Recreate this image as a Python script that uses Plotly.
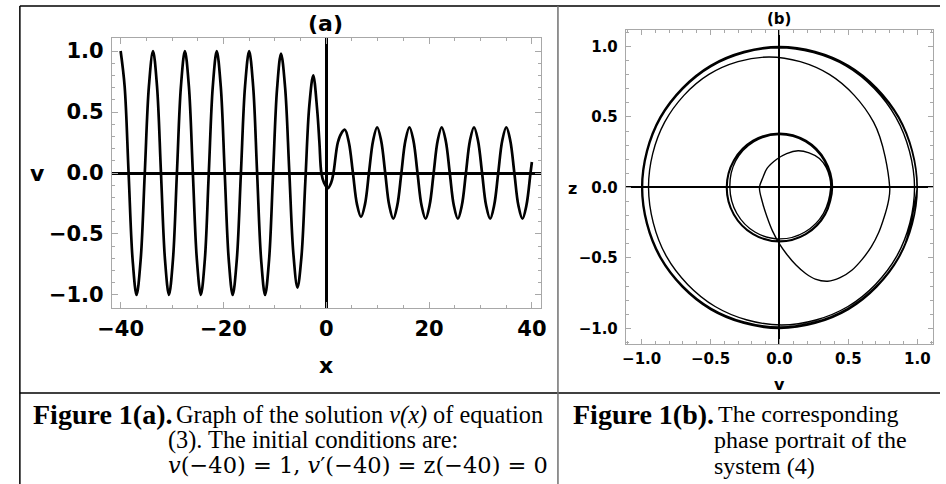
import plotly.graph_objects as go

W, H = 946, 484

# ---------------- data: panel (a)  v(x) ----------------
x_a = [-40.0, -39.22, -38.45, -37.67, -36.9,
       -36.1, -35.3, -34.5, -33.7,
       -32.92, -32.15, -31.37, -30.6,
       -29.82, -29.05, -28.27, -27.5,
       -26.72, -25.95, -25.17, -24.4,
       -23.62, -22.85, -22.07, -21.3,
       -20.52, -19.75, -18.97, -18.2,
       -17.4, -16.6, -15.8, -15.0,
       -14.22, -13.45, -12.67, -11.9,
       -11.12, -10.35, -9.57, -8.8,
       -8.0, -7.2, -6.4, -5.6,
       -4.83, -4.07, -3.30, -2.53,
       -1.77, -1.33, -0.95, -0.44, 0.32, 0.95, 1.4, 2.25, 3.0, 3.62,
       4.4, 5.19, 5.97, 6.76,
       7.54, 8.33, 9.11, 9.9,
       10.68, 11.47, 12.25, 13.04,
       13.82, 14.61, 15.39, 16.18,
       16.96, 17.75, 18.53, 19.32,
       20.1, 20.89, 21.67, 22.46,
       23.24, 24.03, 24.81, 25.6,
       26.38, 27.17, 27.95, 28.74,
       29.52, 30.31, 31.09, 31.88,
       32.66, 33.45, 34.23, 35.02,
       35.8, 36.59, 37.37, 38.16,
       38.94, 39.73, 40.0]
v_a = [1.0, 0.71, 0.0, -0.71, -1.0,
       -0.71, 0.0, 0.71, 1.0,
       0.71, 0.0, -0.71, -1.0,
       -0.71, 0.0, 0.71, 1.0,
       0.71, 0.0, -0.71, -1.0,
       -0.71, 0.0, 0.71, 1.0,
       0.71, 0.0, -0.71, -1.0,
       -0.71, 0.0, 0.71, 1.0,
       0.71, 0.0, -0.71, -1.0,
       -0.71, -0.01, 0.69, 0.98,
       0.70, 0.02, -0.66, -0.94,
       -0.69, -0.07, 0.55, 0.80,
       0.52, 0.25, 0.0, -0.08, -0.125, -0.08, 0.0, 0.25, 0.33, 0.355,
       0.25, 0.0, -0.255, -0.36,
       -0.255, 0.01, 0.265, 0.375,
       0.265, 0.0, -0.265, -0.375,
       -0.265, 0.0, 0.265, 0.375,
       0.265, 0.0, -0.265, -0.375,
       -0.265, 0.0, 0.265, 0.375,
       0.265, 0.0, -0.265, -0.375,
       -0.265, 0.0, 0.265, 0.375,
       0.265, 0.0, -0.265, -0.375,
       -0.265, 0.0, 0.265, 0.375,
       0.265, 0.0, -0.265, -0.375,
       -0.265, 0.0, 0.09]

# ---------------- data: panel (b)  phase portrait (v, z), read loop by loop ----------------
v_b = [1.0,
       # outer loops
       0.866, 0.5, 0.0, -0.5, -0.866, -1.0, -0.866, -0.5, 0.0, 0.5, 0.866, 1.0,
       0.864, 0.498, 0.0, -0.498, -0.862, -0.995, -0.862, -0.498, 0.0, 0.498, 0.864, 1.0,
       0.866, 0.5, 0.0, -0.5, -0.866, -1.0, -0.866, -0.5, 0.0, 0.5, 0.866, 1.0,
       0.863, 0.497, 0.0, -0.496, -0.86, -0.993, -0.86, -0.496, 0.0, 0.497, 0.863, 0.998,
       0.866, 0.5, 0.0, -0.5, -0.866, -1.0, -0.866, -0.505, -0.01, 0.485, 0.845, 0.98,
       0.851, 0.497, 0.015, -0.467, -0.821, -0.95, -0.833, -0.512, -0.075, 0.362, 0.683, 0.80,
       # transition (teardrop)
       0.79, 0.76, 0.72, 0.667, 0.60, 0.525, 0.44, 0.35, 0.26, 0.19, 0.12, 0.05, 0.0,
       -0.05, -0.09, -0.125, -0.145,
       -0.12, -0.09, -0.02, 0.052, 0.135, 0.215, 0.29, 0.34, 0.365, 0.372,
       # inner loops
       0.32, 0.185, 0.005, -0.178, -0.31, -0.36, -0.318, -0.185, 0.0, 0.188, 0.325, 0.375,
       0.329, 0.19, 0.0, -0.19, -0.329, -0.38, -0.329, -0.19, 0.0, 0.19, 0.329, 0.38,
       0.333, 0.1925, 0.0, -0.1925, -0.333, -0.385, -0.333, -0.1925, 0.0, 0.1925, 0.333, 0.385,
       0.329, 0.19, 0.0, -0.19, -0.329, -0.38, -0.329, -0.19, 0.0, 0.19, 0.329, 0.38,
       0.333, 0.1925, 0.0, -0.1925, -0.333, -0.385, -0.333, -0.1925, 0.0, 0.1925, 0.333, 0.385,
       0.329, 0.19, 0.0, -0.19, -0.329, -0.38, -0.329, -0.19, 0.0, 0.09]
z_b = [0.0,
       -0.5, -0.866, -1.0, -0.866, -0.5, 0.0, 0.5, 0.866, 1.0, 0.866, 0.5, 0.0,
       -0.497, -0.86, -0.993, -0.86, -0.497, 0.0, 0.497, 0.86, 0.993, 0.86, 0.497, 0.0,
       -0.498, -0.863, -0.997, -0.863, -0.498, 0.0, 0.498, 0.863, 0.997, 0.863, 0.498, 0.0,
       -0.495, -0.857, -0.99, -0.857, -0.495, 0.0, 0.495, 0.857, 0.99, 0.857, 0.495, 0.0,
       -0.5, -0.866, -1.0, -0.866, -0.5, 0.0, 0.497, 0.857, 0.99, 0.86, 0.497, 0.0,
       -0.4875, -0.844, -0.975, -0.844, -0.4875, 0.0, 0.4625, 0.801, 0.925, 0.801, 0.4625, 0.0,
       -0.10, -0.21, -0.32, -0.42, -0.51, -0.587, -0.64, -0.665, -0.65, -0.61, -0.55, -0.47, -0.40,
       -0.31, -0.21, -0.10, 0.0,
       0.07, 0.135, 0.20, 0.24, 0.26, 0.245, 0.205, 0.14, 0.07, 0.0,
       -0.183, -0.316, -0.365, -0.316, -0.183, 0.0, 0.1875, 0.325, 0.375, 0.325, 0.1875, 0.0,
       -0.19, -0.329, -0.38, -0.329, -0.19, 0.0, 0.19, 0.329, 0.38, 0.329, 0.19, 0.0,
       -0.1925, -0.333, -0.385, -0.333, -0.1925, 0.0, 0.1925, 0.333, 0.385, 0.333, 0.1925, 0.0,
       -0.19, -0.329, -0.38, -0.329, -0.19, 0.0, 0.19, 0.329, 0.38, 0.329, 0.19, 0.0,
       -0.1925, -0.333, -0.385, -0.333, -0.1925, 0.0, 0.1925, 0.333, 0.385, 0.333, 0.1925, 0.0,
       -0.19, -0.329, -0.38, -0.329, -0.19, 0.0, 0.19, 0.329, 0.38, 0.37]

# ---------------- tick labels ----------------
xa_tickvals = [-40, -20, 0, 20, 40]
xa_ticktext = ["\u221240", "\u221220", "0", "20", "40"]
unit_tickvals = [-1.0, -0.5, 0.0, 0.5, 1.0]
unit_ticktext = ["\u22121.0", "\u22120.5", "0.0", "0.5", "1.0"]

def px(x):
    return x / W

def py(y):
    return 1 - y / H

FRAME = "#a8a8a8"

fig = go.Figure()
fig.add_trace(go.Scatter(x=x_a, y=v_a, mode="lines",
                         line=dict(color="black", width=2.7, shape="spline", smoothing=1.0),
                         xaxis="x", yaxis="y", hoverinfo="skip"))
fig.add_trace(go.Scatter(x=v_b, y=z_b, mode="lines",
                         line=dict(color="black", width=1.4, shape="spline", smoothing=1.0),
                         xaxis="x2", yaxis="y2", hoverinfo="skip"))

def axis_common(size, major_len, minor_len, minor_dtick, zw):
    return dict(showline=True, linecolor=FRAME, linewidth=1, mirror="allticks",
                ticks="inside", ticklen=major_len, tickcolor=FRAME, tickwidth=1,
                showgrid=False, zeroline=True, zerolinecolor="black", zerolinewidth=zw,
                tickfont=dict(family="DejaVu Sans", size=size, color="black", weight="bold"),
                minor=dict(tickmode="linear", tick0=0, dtick=minor_dtick, ticks="inside",
                           ticklen=minor_len, tickcolor=FRAME, tickwidth=1, showgrid=False),
                fixedrange=True)

fig.update_layout(
    width=W, height=H, margin=dict(l=0, r=0, t=0, b=0),
    paper_bgcolor="white", plot_bgcolor="white", showlegend=False,
    xaxis=dict(domain=[px(100), px(538)], range=[-41.7, 41.7], anchor="y",
               tickmode="array", tickvals=xa_tickvals, ticktext=xa_ticktext,
               ticklabelstandoff=2,
               **axis_common(21, 6, 3, 5, 2.5)),
    yaxis=dict(domain=[py(308), py(38)], range=[-1.107, 1.107], anchor="x",
               tickmode="array", tickvals=unit_tickvals, ticktext=unit_ticktext,
               ticklabelstandoff=3,
               **axis_common(21, 6, 3, 0.1, 2.5)),
    xaxis2=dict(domain=[px(625), px(938.7)], range=[-1.115, 1.113], anchor="y2",
                tickmode="array", tickvals=unit_tickvals, ticktext=unit_ticktext,
                ticklabelstandoff=1,
                **axis_common(15, 5, 3, 0.1, 2)),
    yaxis2=dict(domain=[py(344), py(30)], range=[-1.11, 1.116], anchor="x2",
                tickmode="array", tickvals=unit_tickvals, ticktext=unit_ticktext,
                ticklabelstandoff=4,
                **axis_common(15, 5, 3, 0.1, 2)),
)

ann = []
def text(x, y, s, size, family="DejaVu Sans", bold=True, xanchor="center", yanchor="middle", color="black"):
    ann.append(dict(x=px(x), y=py(y), xref="paper", yref="paper", text=s, showarrow=False,
                    xanchor=xanchor, yanchor=yanchor,
                    font=dict(family=family, size=size, color=color,
                              weight="bold" if bold else "normal")))

# panel titles and axis labels
text(318, 23, "(a)", 22)
text(24, 173, "v", 22)
text(319, 365, "x", 22)
text(782, 19, "(b)", 15)
text(571, 188, "z", 16)
text(782, 384, "v", 16)

# captions
SERIF = "Liberation Serif"
text(17, 414, "Figure 1(a).", 28, family=SERIF, bold=True, xanchor="left")
text(163, 415, "Graph of the solution <i>v(x)</i> of equation", 24.3, family=SERIF, bold=False, xanchor="left")
text(155, 440, "(3). The initial conditions are:", 24.3, family=SERIF, bold=False, xanchor="left")
text(155, 465, "<i>v</i>(\u221240) = 1, <i>v</i>\u2032(\u221240) = z(\u221240) = 0", 22.5, family="DejaVu Serif", bold=False, xanchor="left")
text(569, 414, "Figure 1(b).", 28, family=SERIF, bold=True, xanchor="left")
text(717, 414, "The corresponding", 24.0, family=SERIF, bold=False, xanchor="left")
text(713, 440, "phase portrait of the", 24.0, family=SERIF, bold=False, xanchor="left")
text(713, 466, "system (4)", 24.0, family=SERIF, bold=False, xanchor="left")

fig.update_layout(annotations=ann)

# table borders
shapes = []
def seg(x0, y0, x1, y1, color="black", width=1.5):
    shapes.append(dict(type="line", xref="paper", yref="paper",
                       x0=px(x0), y0=py(y0), x1=px(x1), y1=py(y1),
                       line=dict(color=color, width=width)))
seg(6, 6, 946, 6)
seg(6, 6, 6, 484)
seg(6, 393, 946, 393)
seg(555.7, 6, 555.7, 484, color="#707070", width=1.5)
fig.update_layout(shapes=shapes)

fig.write_html("out.html", config={"displayModeBar": False},
               post_script="document.body.style.margin='0px';")
